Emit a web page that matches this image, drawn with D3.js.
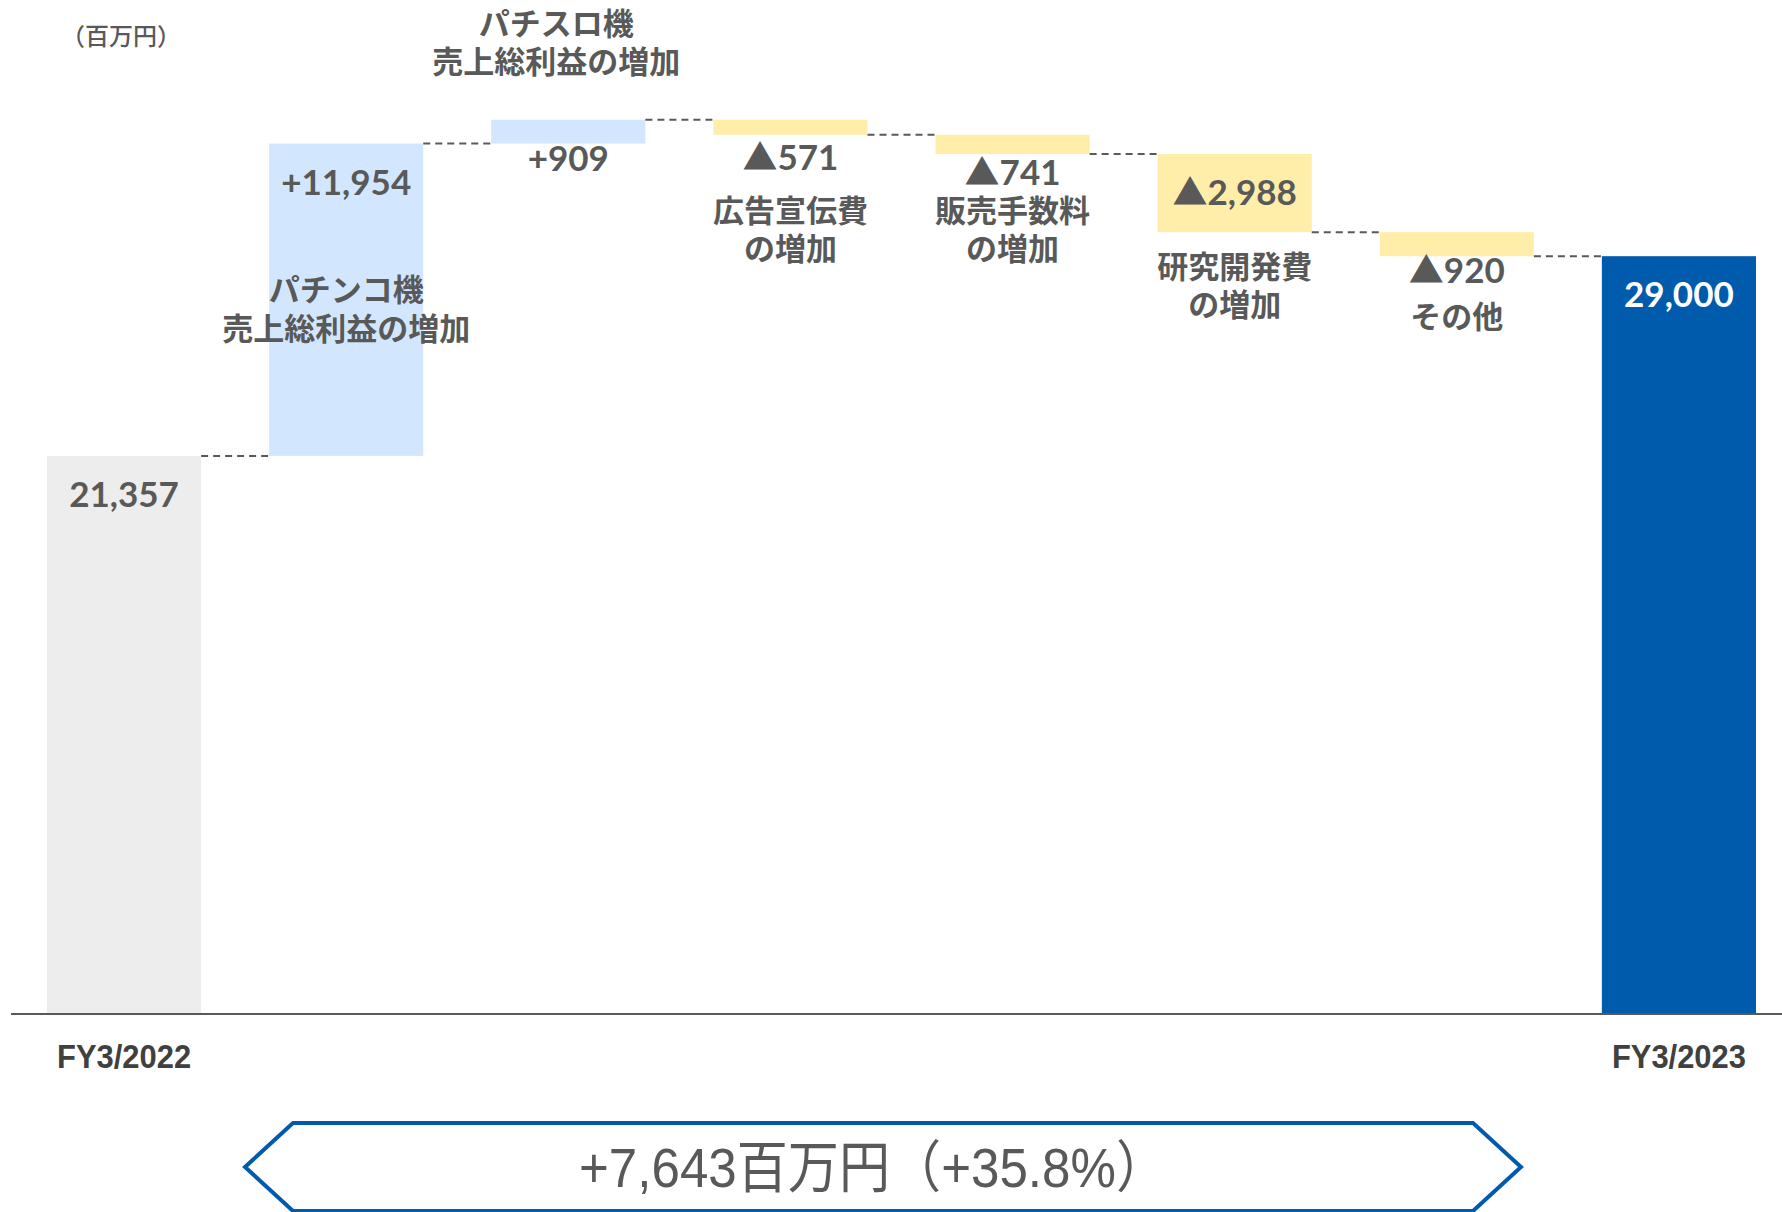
<!DOCTYPE html>
<html>
<head>
<meta charset="utf-8">
<script src="https://cdn.jsdelivr.net/npm/d3@7"></script>
<style>
  body { margin: 0; background: #fff; }
</style>
</head>
<body>
<div id="chart"></div>
<script>
// data
var categories = ["FY3/2022", "パチンコ機", "パチスロ機", "広告宣伝費", "販売手数料", "研究開発費", "その他", "FY3/2023"];
var notes = ["", "パチンコ機\n売上総利益の増加", "パチスロ機\n売上総利益の増加", "広告宣伝費\nの増加", "販売手数料\nの増加", "研究開発費\nの増加", "その他", ""];
var values = [21357, 11954, 909, -571, -741, -2988, -920, 29000];
var kinds = ["total", "delta", "delta", "delta", "delta", "delta", "delta", "total"];
var unitLabel = "（百万円）";

// initial setup
var svgWidth = 1782;
var svgHeight = 1212;
var baseY = 1014;

var numFont = "Lato, 'Noto Sans CJK JP', sans-serif";
var jpFont = "'Noto Sans CJK JP', sans-serif";
var narrowFont = "'Liberation Sans Narrow', 'Liberation Sans', 'Noto Sans CJK JP', sans-serif";
var grey = "#595959";

var svg = d3.select("#chart")
  .append("svg")
  .attr("width", svgWidth)
  .attr("height", svgHeight);

// running totals
var run = 0;
var bars = values.map(function (v, i) {
  var start, end;
  if (kinds[i] === "total") { start = 0; end = v; }
  else { start = run; end = run + v; }
  run = end;
  return { i: i, v: v, kind: kinds[i], start: start, end: end,
           lo: Math.min(start, end), hi: Math.max(start, end) };
});

// scales
var x = d3.scaleBand()
  .domain(d3.range(values.length))
  .range([47, 1756])
  .paddingInner(0.306)
  .paddingOuter(0);

var y = d3.scaleLinear()
  .domain([0, 38000])
  .range([baseY, 21]);

var bw = x.bandwidth();

function barColor(d) {
  if (d.kind === "total") return d.i === 0 ? "#EDEDED" : "#005BAC";
  return d.v >= 0 ? "#D2E7FE" : "#FFEEAA";
}

// bars
svg.selectAll("rect.bar")
  .data(bars)
  .enter()
  .append("rect")
  .attr("class", "bar")
  .attr("x", d => x(d.i))
  .attr("y", d => y(d.hi))
  .attr("width", bw)
  .attr("height", d => y(d.lo) - y(d.hi))
  .attr("fill", barColor);

// dashed connectors
svg.selectAll("line.conn")
  .data(bars.slice(0, -1))
  .enter()
  .append("line")
  .attr("class", "conn")
  .attr("x1", d => x(d.i) + bw)
  .attr("x2", d => x(d.i + 1))
  .attr("y1", d => y(d.end))
  .attr("y2", d => y(d.end))
  .attr("stroke", grey)
  .attr("stroke-width", 2)
  .attr("stroke-dasharray", "7,5");

// axis
var bottomAxis = d3.axisBottom(x)
  .tickSize(0)
  .tickFormat(i => kinds[i] === "total" ? categories[i] : "");

var axisG = svg.append("g")
  .attr("transform", `translate(0, ${baseY})`)
  .call(bottomAxis);

axisG.select(".domain")
  .attr("d", "M11,0H" + svgWidth)
  .attr("stroke", grey)
  .attr("stroke-width", 2);

axisG.selectAll(".tick text")
  .filter(function () { return this.textContent !== ""; })
  .attr("y", 42)
  .attr("dy", "0.35em")
  .attr("textLength", 134)
  .attr("lengthAdjust", "spacingAndGlyphs")
  .style("font-family", narrowFont)
  .style("font-size", "33px")
  .style("font-weight", "bold")
  .attr("fill", "#404040");

// value labels
var fmt = d3.format(",");
function valueText(d) {
  if (d.kind === "total") return fmt(d.v);
  return (d.v >= 0 ? "+" : "▲") + fmt(Math.abs(d.v));
}
function valueY(d) {
  var top = y(d.hi), bottom = y(d.lo);
  if (bottom - top > 60) return top + 39;
  if (d.i === 3) return bottom + 23;
  if (d.i === 4) return bottom + 19;
  return bottom + 15;
}

svg.selectAll("text.val")
  .data(bars)
  .enter()
  .append("text")
  .attr("class", "val")
  .attr("x", d => x(d.i) + bw / 2)
  .attr("y", valueY)
  .attr("dy", "0.35em")
  .attr("text-anchor", "middle")
  .style("font-family", numFont)
  .style("font-size", "35px")
  .style("font-weight", "bold")
  .attr("fill", d => d.i === values.length - 1 ? "#fff" : grey)
  .text(valueText);

// notes under / over the bars
function noteY(d) {
  var top = y(d.hi), bottom = y(d.lo);
  if (d.i === 1) return top + 147;
  if (d.i === 2) return top - 96;
  if (bottom - top > 60) return bottom + 35;
  if (d.i === 3 || d.i === 4) return y(bars[3].lo) + 76;
  return valueY(d) + 46;
}

var noteG = svg.selectAll("text.note")
  .data(bars.filter(d => notes[d.i]))
  .enter()
  .append("text")
  .attr("class", "note")
  .attr("text-anchor", "middle")
  .style("font-family", jpFont)
  .style("font-size", "31px")
  .style("font-weight", "bold")
  .attr("fill", grey);

noteG.each(function (d) {
  var lines = notes[d.i].split("\n");
  var cx = x(d.i) + bw / 2 - (d.i === 2 ? 12 : 0);
  var t = d3.select(this);
  lines.forEach(function (line, k) {
    t.append("tspan")
      .attr("x", cx)
      .attr("y", noteY(d) + k * 38.5)
      .attr("dy", "0.35em")
      .text(line);
  });
});

// unit label
svg.append("text")
  .attr("x", 121)
  .attr("y", 37)
  .attr("dy", "0.35em")
  .attr("text-anchor", "middle")
  .style("font-family", jpFont)
  .style("font-size", "24px")
  .style("font-weight", "500")
  .attr("fill", grey)
  .text(unitLabel);

// summary arrow
var diff = values[values.length - 1] - values[0];
var pct = diff / values[0] * 100;
var ax0 = 245, ax1 = 293, ax2 = 1473, ax3 = 1521, ay = 1167, ah = 44;

svg.append("polygon")
  .attr("points", [[ax0, ay], [ax1, ay - ah], [ax2, ay - ah], [ax3, ay], [ax2, ay + ah], [ax1, ay + ah]]
    .map(p => p.join(",")).join(" "))
  .attr("fill", "#fff")
  .attr("stroke", "#005BAC")
  .attr("stroke-width", 4);

svg.append("text")
  .attr("x", 873)
  .attr("y", ay)
  .attr("dy", "0.35em")
  .attr("text-anchor", "middle")
  .attr("textLength", 588)
  .attr("lengthAdjust", "spacingAndGlyphs")
  .style("font-family", narrowFont)
  .style("font-size", "56px")
  .attr("fill", grey)
  .text("+" + fmt(diff) + "百万円（+" + pct.toFixed(1) + "%）");
</script>
</body>
</html>
